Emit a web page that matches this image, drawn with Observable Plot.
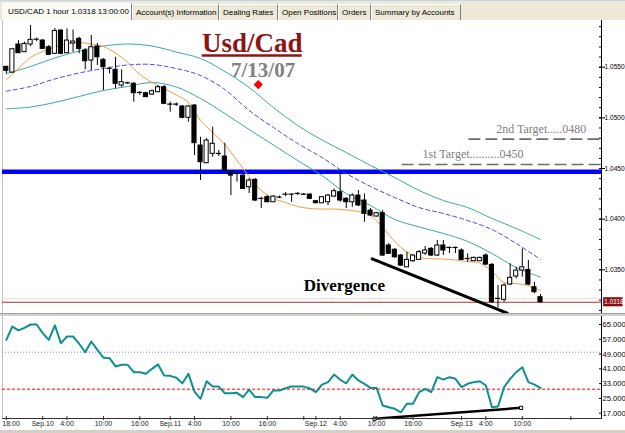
<!DOCTYPE html>
<html><head><meta charset="utf-8">
<script src="https://cdn.jsdelivr.net/npm/d3@7"></script>
<script src="https://cdn.jsdelivr.net/npm/@observablehq/plot@0.6"></script>
<style>
body{margin:0;width:625px;height:433px;overflow:hidden;position:relative;background:#fff;font-family:"Liberation Sans",Arial,sans-serif;}
#tabs{position:absolute;left:0;top:0;width:625px;height:20px;background:#ECE9D8;border-top:1px solid #C5D2E6;box-sizing:border-box;}
.tab{position:absolute;top:3px;height:16px;font-size:8px;line-height:15px;color:#000;border-right:1px solid #7F7F7F;border-left:1px solid #FFFFFF;border-top:1px solid #FFFFFF;box-sizing:border-box;padding-left:3px;white-space:nowrap;}
.tab.sel{background:#FAFAF6;top:2px;height:18px;padding-left:5px;}
#main{position:absolute;left:0;top:20px;}
#sep{position:absolute;left:0;top:313px;width:625px;height:3px;background:#D4D0C8;border-top:1px solid #A0A0A0;box-sizing:border-box;}
#rsi{position:absolute;left:0;top:316px;}
#bot{position:absolute;left:0;top:430px;width:625px;height:3px;background:#D4D0C8;}
</style></head>
<body>
<div id="tabs">
  <div class="tab sel" style="left:2px;width:130px">USD/CAD 1 hour 1.0318 13:00:00</div>
  <div class="tab" style="left:132px;width:87px">Account(s) Information</div>
  <div class="tab" style="left:219px;width:59px">Dealing Rates</div>
  <div class="tab" style="left:278px;width:60px">Open Positions</div>
  <div class="tab" style="left:338px;width:33px">Orders</div>
  <div class="tab" style="left:371px;width:90px">Summary by Accounts</div>
</div>
<div id="main"></div>
<div id="sep"></div>
<div id="rsi"></div>
<div id="bot"></div>
<script>
// ---- hourly candles (USD/CAD), index 0 = Sep.9 18:00 ... 88 = Sep.13 13:00
const open = [1.05504,1.05447,1.05724,1.05648,1.05724,1.0577,1.05763,1.05697,1.05632,1.05862,
 1.05638,1.05734,1.0578,1.05665,1.05566,1.05704,1.05573,1.05484,1.05474,1.05319,
 1.05342,1.05336,1.05247,1.05243,1.0523,1.05253,1.05302,1.05132,1.05132,1.05112,
 1.05001,1.05122,1.04727,1.04552,1.04645,1.04645,1.04618,1.04463,1.0445,1.0443,
 1.04315,1.04388,1.04201,1.04217,1.04167,1.04214,1.04243,1.04243,1.0425,1.04243,
 1.04243,1.04177,1.04157,1.04167,1.04223,1.04266,1.04201,1.04167,1.04233,1.04184,
 1.04085,1.04026,1.04059,1.0374,1.03698,1.03641,1.03525,1.03585,1.03598,1.03661,
 1.03707,1.03641,1.0374,1.03717,1.03717,1.03691,1.03608,1.03585,1.03585,1.03641,
 1.03549,1.03214,1.03204,1.03355,1.03434,1.03493,1.03499,1.03328,1.0323];
const close = [1.05464,1.05677,1.05638,1.0573,1.0577,1.05772,1.05681,1.05622,1.05857,1.05632,
 1.05763,1.05753,1.05681,1.05559,1.05697,1.05598,1.055,1.05482,1.05336,1.05352,
 1.0534,1.05243,1.05245,1.05204,1.05263,1.05302,1.05139,1.0513,1.0513,1.05001,
 1.05112,1.0475,1.04562,1.04776,1.04744,1.04643,1.0448,1.0443,1.04448,1.04299,
 1.04381,1.04184,1.04199,1.04167,1.04223,1.04212,1.04241,1.04241,1.04248,1.04241,
 1.04201,1.04157,1.04217,1.04233,1.04276,1.04184,1.04167,1.04233,1.04135,1.04053,
 1.04036,1.04059,1.03641,1.03658,1.03624,1.03542,1.03598,1.03641,1.03674,1.03691,
 1.03641,1.0374,1.03691,1.03715,1.03715,1.03598,1.03606,1.03618,1.03618,1.03552,
 1.0318,1.03212,1.03345,1.03421,1.03493,1.03525,1.03355,1.03279,1.0318];
const high = [1.05507,1.05677,1.05763,1.05747,1.05911,1.05788,1.05773,1.05714,1.05882,1.05867,
 1.05879,1.05867,1.05796,1.05684,1.05813,1.05734,1.05586,1.055,1.05598,1.05474,
 1.05352,1.05349,1.0526,1.05253,1.05275,1.05319,1.05319,1.05155,1.05147,1.05122,
 1.05122,1.05132,1.04809,1.04796,1.04908,1.04678,1.0475,1.0447,1.04463,1.0445,
 1.04401,1.04401,1.04217,1.04233,1.04233,1.04228,1.04263,1.04248,1.04263,1.04253,
 1.0425,1.04184,1.04223,1.04243,1.04299,1.04447,1.04214,1.0425,1.04283,1.0425,
 1.04105,1.04066,1.04085,1.0376,1.0371,1.03651,1.03674,1.03651,1.03691,1.0373,
 1.0372,1.03789,1.03789,1.03725,1.03725,1.03707,1.03658,1.03626,1.03626,1.03658,
 1.03562,1.03345,1.03362,1.03559,1.03525,1.03707,1.03592,1.03378,1.03256];
const low = [1.05432,1.05442,1.05635,1.05645,1.05704,1.05753,1.05674,1.05615,1.05625,1.05625,
 1.05635,1.05648,1.05632,1.05474,1.05467,1.05517,1.0527,1.05434,1.05286,1.05302,
 1.05329,1.05155,1.0522,1.05201,1.0522,1.0525,1.05132,1.05056,1.05112,1.04991,
 1.04957,1.04628,1.04381,1.04549,1.04611,1.04618,1.0447,1.04233,1.04365,1.04293,
 1.04253,1.04174,1.04105,1.04164,1.04164,1.04204,1.04223,1.04167,1.04233,1.04233,
 1.04194,1.04154,1.04154,1.04135,1.04214,1.04167,1.04105,1.04118,1.04125,1.0397,
 1.04026,1.04021,1.03631,1.03651,1.03611,1.03532,1.03522,1.03572,1.03592,1.03641,
 1.03631,1.03631,1.03641,1.03661,1.03661,1.03592,1.03575,1.03582,1.03582,1.03542,
 1.03167,1.03125,1.0318,1.03345,1.03411,1.03427,1.03345,1.03263,1.03167];

// ---- envelope bands (read every 4 bars)
const bandIdx = [0,4,8,12,16,20,24,28,32,36,40,44,48,52,56,60,64,68,72,76,80,84,88];
const upperBand = [1.05435,1.05507,1.05591,1.0566,1.05709,1.05729,1.05709,1.0565,1.05586,1.05458,1.053,1.05102,1.04925,1.04781,1.04658,1.0453,1.04411,1.04283,1.04184,1.04115,1.04007,1.03908,1.03799];
const midBand = [1.05263,1.0531,1.05384,1.05443,1.05487,1.05522,1.05527,1.05487,1.05418,1.0528,1.05073,1.04905,1.04747,1.04609,1.04451,1.04323,1.04214,1.04115,1.04056,1.03987,1.03898,1.0376,1.03602];
const lowerBand = [1.05089,1.05107,1.05152,1.05211,1.0527,1.0531,1.05349,1.05305,1.05191,1.05043,1.04885,1.04732,1.04579,1.04431,1.04253,1.04135,1.03997,1.03923,1.03859,1.0378,1.03661,1.03523,1.03427];
// ---- fast moving average (read every 2 bars)
const maIdx = d3.range(0, 89, 2);
const fastMA = [1.05376,1.05487,1.05596,1.05655,1.05699,1.05731,1.05744,1.05729,1.05704,1.0564,1.05546,1.05428,1.05349,1.0529,1.05226,1.05152,1.04974,1.04856,1.04737,1.04579,1.04421,1.04283,1.04204,1.04165,1.04125,1.04105,1.041,1.041,1.04091,1.04076,1.04036,1.03918,1.0378,1.03676,1.03622,1.03609,1.03607,1.03597,1.03582,1.03567,1.03484,1.03375,1.03365,1.03345,1.03296];
// ---- RSI per bar
const rsi = [56.7,63.9,61.8,63.2,65.0,65.0,60.3,56.7,64.5,54.9,
 58.5,58.5,54.6,50.0,55.8,51.3,47.0,46.8,42.3,43.2,
 43.2,39.2,39.2,38.3,41.0,43.4,37.4,37.2,36.2,33.2,
 38.3,28.7,24.8,34.3,31.4,31.4,27.8,27.8,28.0,25.7,
 29.7,25.7,25.7,25.3,29.3,29.3,30.5,31.4,31.4,31.4,
 30.4,28.4,32.5,33.8,37.9,35.1,33.2,37.9,34.7,32.9,
 30.7,30.7,21.2,20.2,19.4,17.5,22.1,22.1,28.4,30.2,
 28.4,36.5,35.2,36.5,35.6,31.1,32.9,33.8,34.3,32.0,
 20.2,20.6,31.1,35.6,39.2,41.9,33.8,32.5,30.7];

// ---- levels & labels
const lastPrice = 1.0318;
const askLevel = 1.03217;
const supportLevel = 1.04468;
const targetLevels = [1.0454, 1.0479];
const targetStart = [65.2, 76.2];
const targetLabelX = [68.56, 80.7];
const targetLabels = ["1st Target..........0450", "2nd Target.....0480"];
const priceTicks = [1.035, 1.040, 1.045, 1.050, 1.055];
const rsiTicks = [17, 25, 33, 41, 49, 57, 65];
const rsiLevels = [50, 30];
const timeTickIdx = [0, 6, 10, 16, 22, 27, 31, 37, 43, 49, 51, 55, 61, 67, 75, 79, 85, 93];
const timeTickLabel = ["18:00","Sep.10","4:00","10:00","16:00","Sep.11","4:00","10:00","16:00","","Sep.12","4:00","10:00","16:00","Sep.13","4:00","10:00",""];

const candles = open.map((o, i) => ({i, open: o, close: close[i], high: high[i], low: low[i]}));
const band = (arr) => arr.map((v, j) => ({x: bandIdx[j], y: v}));
const maData = fastMA.map((v, j) => ({x: maIdx[j], y: v}));
const rsiData = rsi.map((v, i) => ({x: i, y: v}));
const targets = targetLevels.map((p, j) => ({y: p, x1: targetStart[j], x2: 98.05, lx: targetLabelX[j], label: targetLabels[j]}));
const priceDiv = [{x: 60.28, y: 1.03609}, {x: 82.52, y: 1.03072}];
const rsiDiv = [{x: 60.66, y: 14.0}, {x: 84.8, y: 19.9}];
const labelByIdx = new Map(timeTickIdx.map((t, j) => [t, j === 0 ? "" : timeTickLabel[j]]));

const xDomain = [-0.626, 98.048];
const serif = "'Liberation Serif','Times New Roman',serif";
const sans = "'Liberation Sans',Arial,sans-serif";
const narrow = "'Liberation Sans Narrow','Arial Narrow','Liberation Sans',sans-serif";
const minorTicks = d3.range(1031, 1060).map(v => v / 1000);

const main = Plot.plot({
  width: 625, height: 293,
  marginLeft: 2, marginRight: 24, marginTop: 0, marginBottom: 0,
  x: {domain: xDomain, axis: null},
  y: {domain: [1.03069, 1.05961], axis: null},
  style: {background: "#FFFFFF", fontFamily: narrow, fontSize: "7px", color: "#000"},
  marks: [
    Plot.frame({anchor: "left", stroke: "#BDBDBD"}),
    Plot.ruleY([askLevel], {stroke: "#E6C8C8", strokeDasharray: "1,1"}),
    Plot.ruleY([lastPrice], {stroke: "#A83232", strokeWidth: 1}),
    Plot.ruleY([supportLevel], {stroke: "#0000FF", strokeWidth: 4.5}),
    Plot.ruleY(targets, {y: "y", x1: "x1", x2: "x2", stroke: "#6E6E6E", strokeWidth: 1.6, strokeDasharray: "12,5"}),
    Plot.text(targets, {x: "lx", y: "y", text: "label", dy: -6, textAnchor: "start", lineAnchor: "bottom", fontFamily: serif, fontSize: 12, fill: "#808080"}),
    Plot.line(band(upperBand), {x: "x", y: "y", stroke: "#3AA9A2", strokeWidth: 1, curve: "catmull-rom"}),
    Plot.line(band(lowerBand), {x: "x", y: "y", stroke: "#3AA9A2", strokeWidth: 1, curve: "catmull-rom"}),
    Plot.line(band(midBand), {x: "x", y: "y", stroke: "#4545F5", strokeWidth: 1, strokeDasharray: "4,3", curve: "catmull-rom"}),
    Plot.line(maData, {x: "x", y: "y", stroke: "#F39A45", strokeWidth: 1, curve: "catmull-rom"}),
    Plot.ruleX(candles, {x: "i", y1: "low", y2: "high", stroke: "#000", strokeWidth: 1}),
    Plot.rect(candles, {x1: d => d.i - 0.34, x2: d => d.i + 0.34, y1: "open", y2: "close",
      fill: d => d.close > d.open ? "#FFFFFF" : "#000000", stroke: "#000", strokeWidth: 1}),
    Plot.line(priceDiv, {x: "x", y: "y", stroke: "#000", strokeWidth: 3}),
    Plot.text([{t: "Usd/Cad", x: 40.5, y: 1.05648}], {x: "x", y: "y", text: "t", lineAnchor: "bottom", fontFamily: serif, fontWeight: "bold", fontSize: 27, fill: "#8E1414"}),
    Plot.ruleY([{y: 1.05615, x1: 32.27, x2: 48.74}], {y: "y", x1: "x1", x2: "x2", stroke: "#8E1414", strokeWidth: 2.5}),
    Plot.text([{t: "7/13/07", x: 42.3, y: 1.05401}], {x: "x", y: "y", text: "t", lineAnchor: "bottom", fontFamily: serif, fontWeight: "bold", fontSize: 21, fill: "#808080"}),
    Plot.dot([{x: 41.5, y: 1.05329}], {x: "x", y: "y", symbol: "diamond2", r: 3.2, fill: "#FF0000", stroke: "#FF0000"}),
    Plot.text([{t: "Divergence", x: 49.0, y: 1.03289}], {x: "x", y: "y", text: "t", textAnchor: "start", lineAnchor: "bottom", fontFamily: serif, fontWeight: "bold", fontSize: 17, fill: "#000"}),
    Plot.axisY(minorTicks, {anchor: "right", tickSize: 3, dx: -3, tickFormat: () => "", label: null, stroke: "#000"}),
    Plot.axisY(priceTicks, {anchor: "right", tickSize: 6, dx: -3, tickPadding: 0, tickFormat: d3.format(".4f"), label: null, fontSize: 6.6, fontFamily: narrow, fill: "#000"}),
    Plot.frame({anchor: "right", stroke: "#000"}),
    Plot.rect([{y: lastPrice}], {x1: () => 98.4, x2: () => 101.6, y1: d => d.y - 0.00045, y2: d => d.y + 0.00045, fill: "#8B0E0E"}),
    Plot.text([{y: lastPrice}], {x: () => 98.5, y: "y", text: d => d3.format(".4f")(d.y), textAnchor: "start", fill: "#FFFFFF", fontSize: 6.3, fontFamily: narrow})
  ]
});
document.getElementById("main").appendChild(main);

const rsiChart = Plot.plot({
  width: 625, height: 114,
  marginLeft: 2, marginRight: 24, marginTop: 0, marginBottom: 12,
  x: {domain: xDomain, axis: null},
  y: {domain: [14.13, 69.33], axis: null},
  style: {background: "#FFFFFF", fontFamily: narrow, fontSize: "7px", color: "#000"},
  marks: [
    Plot.frame({anchor: "left", stroke: "#BDBDBD"}),
    Plot.ruleY([rsiLevels[0]], {stroke: "#8C8CB8", strokeDasharray: "1,2"}),
    Plot.ruleY([rsiLevels[1]], {stroke: "#FF0000", strokeDasharray: "3,2"}),
    Plot.line(rsiData, {x: "x", y: "y", stroke: "#0E9090", strokeWidth: 2}),
    Plot.line(rsiDiv, {x: "x", y: "y", stroke: "#000", strokeWidth: 2.5}),
    Plot.dot(rsiDiv, {x: "x", y: "y", symbol: "square", r: 1.8, fill: "#FFFFFF", stroke: "#000", strokeWidth: 1}),
    Plot.axisY(rsiTicks, {anchor: "right", tickSize: 3, dx: -3, tickPadding: 1, tickFormat: d3.format(".3f"), label: null, fontSize: 7.6, fontFamily: narrow, fill: "#000"}),
    Plot.frame({anchor: "right", stroke: "#000"}),
    Plot.frame({anchor: "bottom", stroke: "#333"}),
    Plot.axisX(timeTickIdx, {anchor: "bottom", tickSize: 4, dy: -2, tickFormat: () => "", label: null, stroke: "#333"}),
    Plot.axisX(timeTickIdx, {anchor: "bottom", tickSize: 0, tickPadding: 3, tickFormat: d => labelByIdx.get(d), label: null, fontSize: 7, fontFamily: narrow, fill: "#222"}),
    Plot.text([{t: timeTickLabel[0], x: timeTickIdx[0]}], {x: "x", text: "t", frameAnchor: "bottom", dy: 3, dx: -4, textAnchor: "start", lineAnchor: "top", fontSize: 7, fontFamily: narrow, fill: "#222"})
  ]
});
document.getElementById("rsi").appendChild(rsiChart);
</script>
</body></html>
